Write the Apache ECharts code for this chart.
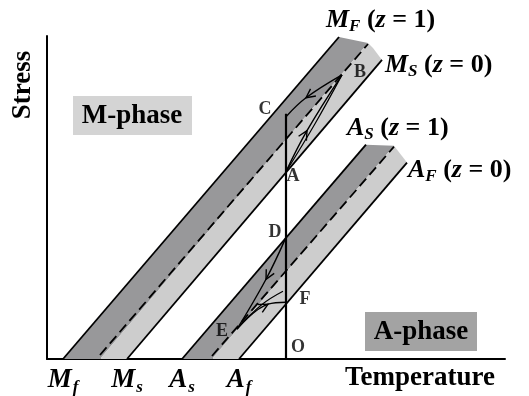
<!DOCTYPE html>
<html>
<head>
<meta charset="utf-8">
<script src="https://cdn.jsdelivr.net/npm/echarts@6/dist/echarts.min.js"></script>
<style>
  html, body { margin: 0; padding: 0; background: #fff; }
  #chart { width: 529px; height: 396px; }
</style>
</head>
<body>
<div id="chart"></div>
<script>
// Phase-transformation diagram: stress vs temperature (schematic units)

// Boundary lines of the martensite (M) and austenite (A) bands
const mfLine   = [[16, 0], [292, 323]];
const mMidLine = [[53, 4], [321, 316]];
const msLine   = [[80, 0], [335, 300]];
const asLine   = [[135, 0], [319, 215]];
const aMidLine = [[165, 3], [347, 213]];
const afLine   = [[192, 0], [360, 197]];

// Band fill outlines
const mDarkBand  = [[16, 0], [292, 323], [321, 317], [53, 0]];
const mLightBand = [[53, 0], [321, 317], [326, 312], [335, 300], [80, 0]];
const aDarkBand  = [[135, 0], [319, 215], [347, 214], [165, 0]];
const aLightBand = [[165, 0], [347, 214], [360, 197], [192, 0]];

// Loading paths (first, middle, last point; arrows sit at the middle point)
const pathOC  = [[239, 0], [239, 246]];
const pathAB  = [[239, 188], [260, 229], [295, 285]];
const pathAB2 = [[239, 188], [268, 236], [295, 285]];
const pathBC  = [[295, 285], [259, 262], [239, 243]];
const pathDE  = [[239, 122], [219, 80], [190, 30]];
const pathEF  = [[190, 30], [221, 55], [239, 57]];
const pathEF2 = [[190, 30], [214, 54], [236, 68]];
const arrowPaths = [pathAB, pathBC, pathDE, pathEF];

// Axis tick positions and labels
const tickValues = [16, 80, 135, 192];
const tickLabels = [['M', 'f'], ['M', 's'], ['A', 's'], ['A', 'f']];

// Point letters
const pointNames  = ['B', 'C', 'A', 'D', 'E', 'F', 'O'];
const pointCoords = [[313, 288], [218, 250], [246, 183], [228, 127], [175, 28], [258, 60], [251, 12]];

const DARK = '#98989a';
const LIGHT = '#cdcdcd';
const SERIF = '"Liberation Serif", "DejaVu Serif", serif';

function polygonSeries(points, color) {
  return {
    type: 'custom',
    silent: true,
    data: [0],
    z: 1,
    renderItem: function (params, api) {
      return {
        type: 'polygon',
        shape: { points: points.map(p => api.coord(p)) },
        style: { fill: color, stroke: null }
      };
    }
  };
}

function lineSeries(points, opts) {
  opts = opts || {};
  return {
    type: 'line',
    data: points,
    showSymbol: false,
    silent: true,
    smooth: opts.smooth || false,
    z: opts.z || 3,
    lineStyle: { color: '#000', width: opts.width || 1.8, type: opts.dash || 'solid' }
  };
}

const series = [
  polygonSeries(mDarkBand, DARK),
  polygonSeries(mLightBand, LIGHT),
  polygonSeries(aDarkBand, DARK),
  polygonSeries(aLightBand, LIGHT),
  lineSeries(mfLine),
  lineSeries(msLine),
  lineSeries(asLine),
  lineSeries(afLine),
  lineSeries(mMidLine, { dash: [10, 5] }),
  lineSeries(aMidLine, { dash: [10, 5] }),
  lineSeries(pathOC, { width: 2.2, z: 4 }),
  lineSeries(pathAB, { smooth: 0.4, width: 1.4, z: 4 }),
  lineSeries(pathAB2, { smooth: 0.4, width: 1.2, z: 4 }),
  lineSeries(pathBC, { smooth: 0.4, width: 1.4, z: 4 }),
  lineSeries(pathDE, { smooth: 0.4, width: 1.4, z: 4 }),
  lineSeries(pathEF, { smooth: 0.4, width: 1.4, z: 4 }),
  lineSeries(pathEF2, { smooth: 0.4, width: 1.2, z: 4 }),
  {
    // open arrowheads along the loading paths
    type: 'custom',
    silent: true,
    z: 5,
    data: arrowPaths.map(p => [p[0][0], p[0][1], p[1][0], p[1][1], p[2][0], p[2][1]]),
    renderItem: function (params, api) {
      const a = api.coord([api.value(0), api.value(1)]);
      const tip = api.coord([api.value(2), api.value(3)]);
      const b = api.coord([api.value(4), api.value(5)]);
      const dx = b[0] - a[0], dy = b[1] - a[1];
      const L = Math.hypot(dx, dy);
      const ux = dx / L, uy = dy / L;
      const len = 9, w = 4.5;
      const bx = tip[0] - ux * len, by = tip[1] - uy * len;
      return {
        type: 'polyline',
        shape: { points: [[bx - uy * w, by + ux * w], tip, [bx + uy * w, by - ux * w]] },
        style: { stroke: '#000', lineWidth: 1.4, fill: null }
      };
    }
  },
  {
    type: 'scatter',
    silent: true,
    symbolSize: 0,
    z: 6,
    data: pointCoords.map((c, i) => ({ value: c, name: pointNames[i] })),
    label: {
      show: true,
      position: 'inside',
      formatter: '{b}',
      fontFamily: SERIF,
      fontWeight: 'bold',
      fontSize: 18,
      color: '#000'
    }
  }
];

const richTick = {
  big: { fontFamily: SERIF, fontStyle: 'italic', fontWeight: 'bold', fontSize: 27, lineHeight: 30, color: '#000' },
  sub: { fontFamily: SERIF, fontStyle: 'italic', fontWeight: 'bold', fontSize: 17, lineHeight: 32, verticalAlign: 'bottom', padding: [0, 0, 0, 1], color: '#000' }
};

const richSide = {
  big: { fontFamily: SERIF, fontStyle: 'italic', fontWeight: 'bold', fontSize: 26, lineHeight: 28, color: '#000' },
  sub: { fontFamily: SERIF, fontStyle: 'italic', fontWeight: 'bold', fontSize: 17, lineHeight: 30, verticalAlign: 'bottom', color: '#000' },
  txt: { fontFamily: SERIF, fontWeight: 'bold', fontSize: 26, lineHeight: 28, color: '#000' },
  it: { fontFamily: SERIF, fontStyle: 'italic', fontWeight: 'bold', fontSize: 26, lineHeight: 28, color: '#000' }
};

function sideLabel(x, y, letter, sub, z) {
  return {
    type: 'text', x: x, y: y, z: 10,
    style: {
      text: '{big|' + letter + '}{sub|' + sub + '}{txt| (}{it|z}{txt| = ' + z + ')}',
      rich: richSide,
      align: 'left',
      verticalAlign: 'middle'
    }
  };
}

const chart = echarts.init(document.getElementById('chart'), null, { renderer: 'canvas' });
chart.setOption({
  animation: false,
  backgroundColor: '#fff',
  grid: { left: 47, top: 36, width: 458, height: 324, containLabel: false },
  xAxis: {
    type: 'value', min: 0, max: 458,
    splitLine: { show: false },
    axisTick: { show: false },
    axisLine: { show: true, onZero: false, lineStyle: { color: '#000', width: 2 } },
    axisLabel: {
      customValues: tickValues,
      margin: 5,
      formatter: function (v) {
        const i = tickValues.indexOf(v);
        if (i < 0) return '';
        return '{big|' + tickLabels[i][0] + '}{sub|' + tickLabels[i][1] + '}';
      },
      rich: richTick
    }
  },
  yAxis: {
    type: 'value', min: 0, max: 324,
    splitLine: { show: false },
    axisTick: { show: false },
    axisLabel: { show: false },
    axisLine: { show: true, onZero: false, lineStyle: { color: '#000', width: 2 } }
  },
  graphic: [
    { type: 'rect', shape: { x: 73, y: 96, width: 119, height: 39 }, style: { fill: '#d4d4d4' }, z: 8 },
    { type: 'text', x: 132, y: 116, z: 9, style: { text: 'M-phase', font: 'bold 27px ' + SERIF, fill: '#000', align: 'center', verticalAlign: 'middle' } },
    { type: 'rect', shape: { x: 365, y: 312, width: 112, height: 39 }, style: { fill: '#a3a3a3' }, z: 8 },
    { type: 'text', x: 421, y: 332, z: 9, style: { text: 'A-phase', font: 'bold 27px ' + SERIF, fill: '#000', align: 'center', verticalAlign: 'middle' } },
    { type: 'text', x: 23, y: 85, rotation: Math.PI / 2, z: 9, style: { text: 'Stress', font: 'bold 27px ' + SERIF, fill: '#000', align: 'center', verticalAlign: 'middle' } },
    { type: 'text', x: 420, y: 378, z: 9, style: { text: 'Temperature', font: 'bold 27px ' + SERIF, fill: '#000', align: 'center', verticalAlign: 'middle' } },
    sideLabel(326, 20, 'M', 'F', 1),
    sideLabel(385, 65, 'M', 'S', 0),
    sideLabel(347, 128, 'A', 'S', 1),
    sideLabel(408, 170, 'A', 'F', 0)
  ],
  series: series
});
</script>
</body>
</html>
